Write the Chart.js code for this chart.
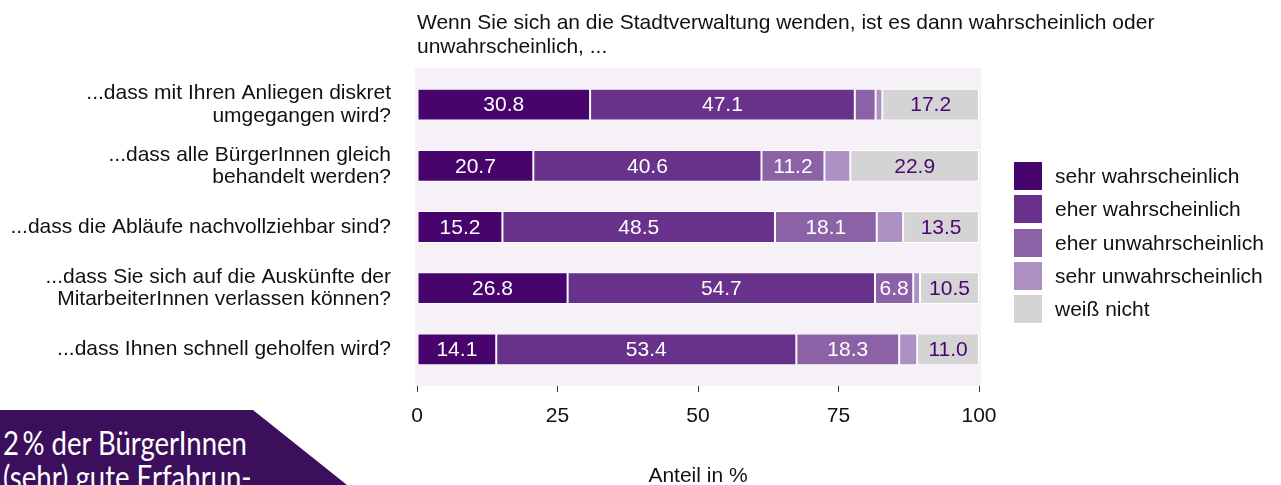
<!DOCTYPE html>
<html>
<head>
<meta charset="utf-8">
<script src="https://cdn.jsdelivr.net/npm/chart.js@4"></script>
<style>
  body { margin: 0; background: #fff; width: 1281px; height: 485px; overflow: hidden; position: relative;
         font-family: "Liberation Sans", Arial, sans-serif; color: #111; }
  #wrap { position: absolute; left: 0; top: 0; width: 1281px; height: 485px; }
  #title { position: absolute; left: 417px; top: 10px; font-size: 21px; line-height: 24px; white-space: nowrap; }
  #legend { position: absolute; left: 1014px; top: 162px; font-size: 21px; white-space: nowrap; }
  .item { display: flex; align-items: center; height: 28px; margin-bottom: 5.3px; }
  .box { width: 28px; height: 28px; margin-right: 13px; }
  #badge { position: absolute; left: 0; top: 410px; width: 347px; height: 75px; background: #3b0f5c;
           clip-path: polygon(0 0, 253px 0, 347px 75px, 0 75px); }
  #badge div { position: absolute; left: 3px; top: 16px; color: #fff; font-family: Lato, sans-serif;
               font-size: 32px; line-height: 34px; white-space: nowrap; transform: scaleX(0.86); transform-origin: 0 0; }
</style>
</head>
<body>
<div id="wrap"><canvas id="chart" width="1281" height="485"></canvas></div>
<div id="title">Wenn Sie sich an die Stadtverwaltung wenden, ist es dann wahrscheinlich oder<br>unwahrscheinlich, ...</div>
<div id="legend"></div>
<div id="badge"><div>2&#8201;% der BürgerInnen<br>(sehr) gute Erfahrun-</div></div>
<script>
const categories = [
  ["...dass mit Ihren Anliegen diskret", "umgegangen wird?"],
  ["...dass alle BürgerInnen gleich", "behandelt werden?"],
  ["...dass die Abläufe nachvollziehbar sind?"],
  ["...dass Sie sich auf die Auskünfte der", "MitarbeiterInnen verlassen können?"],
  ["...dass Ihnen schnell geholfen wird?"]
];
const seriesNames = ["sehr wahrscheinlich", "eher wahrscheinlich", "eher unwahrscheinlich", "sehr unwahrscheinlich", "weiß nicht"];
const sehrWahr   = [30.8, 20.7, 15.2, 26.8, 14.1];
const eherWahr   = [47.1, 40.6, 48.5, 54.7, 53.4];
const eherUnwahr = [3.7, 11.2, 18.1, 6.8, 18.3];
const sehrUnwahr = [1.2, 4.6, 4.7, 1.2, 3.2];
const weissNicht = [17.2, 22.9, 13.5, 10.5, 11.0];
const xTicks = [0, 25, 50, 75, 100];

const colors = ["#46046c", "#68318b", "#8b62a6", "#ad90c4", "#d4d4d4"];
const labelColors = ["#fff", "#fff", "#fff", "#fff", "#48066e"];
const series = [sehrWahr, eherWahr, eherUnwahr, sehrUnwahr, weissNicht];
const FONT = "'Liberation Sans', Arial, sans-serif";

// html legend
const legend = document.getElementById("legend");
seriesNames.forEach((name, i) => {
  const d = document.createElement("div");
  d.className = "item";
  d.innerHTML = '<span class="box" style="background:' + colors[i] + '"></span>' + name;
  legend.appendChild(d);
});

const panelBg = {
  id: "panelBg",
  beforeDraw(chart) {
    const { ctx, chartArea: a } = chart;
    ctx.save();
    ctx.fillStyle = "#f5f1f7";
    ctx.fillRect(a.left - 2, a.top, a.right - a.left + 4, a.bottom - a.top);
    ctx.restore();
  }
};

const barLabels = {
  id: "barLabels",
  afterDatasetsDraw(chart) {
    const ctx = chart.ctx;
    ctx.save();
    ctx.font = "21px " + FONT;
    ctx.textAlign = "center";
    ctx.textBaseline = "middle";
    chart.data.datasets.forEach((ds, di) => {
      chart.getDatasetMeta(di).data.forEach((el, i) => {
        const v = series[di][i];
        if (v < 5) return;
        const p = el.getCenterPoint();
        ctx.fillStyle = labelColors[di];
        ctx.fillText(v.toFixed(1), p.x, p.y + 1);
      });
    });
    ctx.restore();
  }
};

new Chart(document.getElementById("chart"), {
  type: "bar",
  data: {
    datasets: series.map((vals, i) => ({
      label: seriesNames[i],
      data: vals.map((v, j) => ({ x: v, y: j })),
      backgroundColor: colors[i],
      borderColor: "#fff",
      borderWidth: 1,
      borderSkipped: false,
      barPercentage: 0.52,
      categoryPercentage: 1
    }))
  },
  options: {
    indexAxis: "y",
    responsive: false,
    animation: false,
    layout: { padding: { left: 0, right: 302, top: 68, bottom: 0 } },
    plugins: { legend: { display: false }, tooltip: { enabled: false } },
    scales: {
      x: {
        type: "linear", stacked: true, min: 0, max: 100,
        afterBuildTicks: s => { s.ticks = xTicks.map(v => ({ value: v })); },
        afterFit: s => { s.height = 99; },
        grid: { drawOnChartArea: false, drawTicks: true, tickLength: 6, color: "#333" },
        border: { display: false },
        ticks: { padding: 12, color: "#111", font: { family: FONT, size: 21 } },
        title: { display: true, text: "Anteil in %", color: "#111", padding: 0, font: { family: FONT, size: 21, lineHeight: 0.85 } }
      },
      y: {
        type: "linear", stacked: true, reverse: true, offset: false, min: -0.6, max: 4.6,
        afterBuildTicks: s => { s.ticks = categories.map((c, i) => ({ value: i })); },
        afterFit: s => { s.width = 417; },
        grid: { display: false, drawTicks: false },
        border: { display: false },
        ticks: {
          padding: 26, color: "#111", font: { family: FONT, size: 21, lineHeight: 1.06 },
          callback: v => categories[v]
        }
      }
    }
  },
  plugins: [panelBg, barLabels]
});
</script>
</body>
</html>
